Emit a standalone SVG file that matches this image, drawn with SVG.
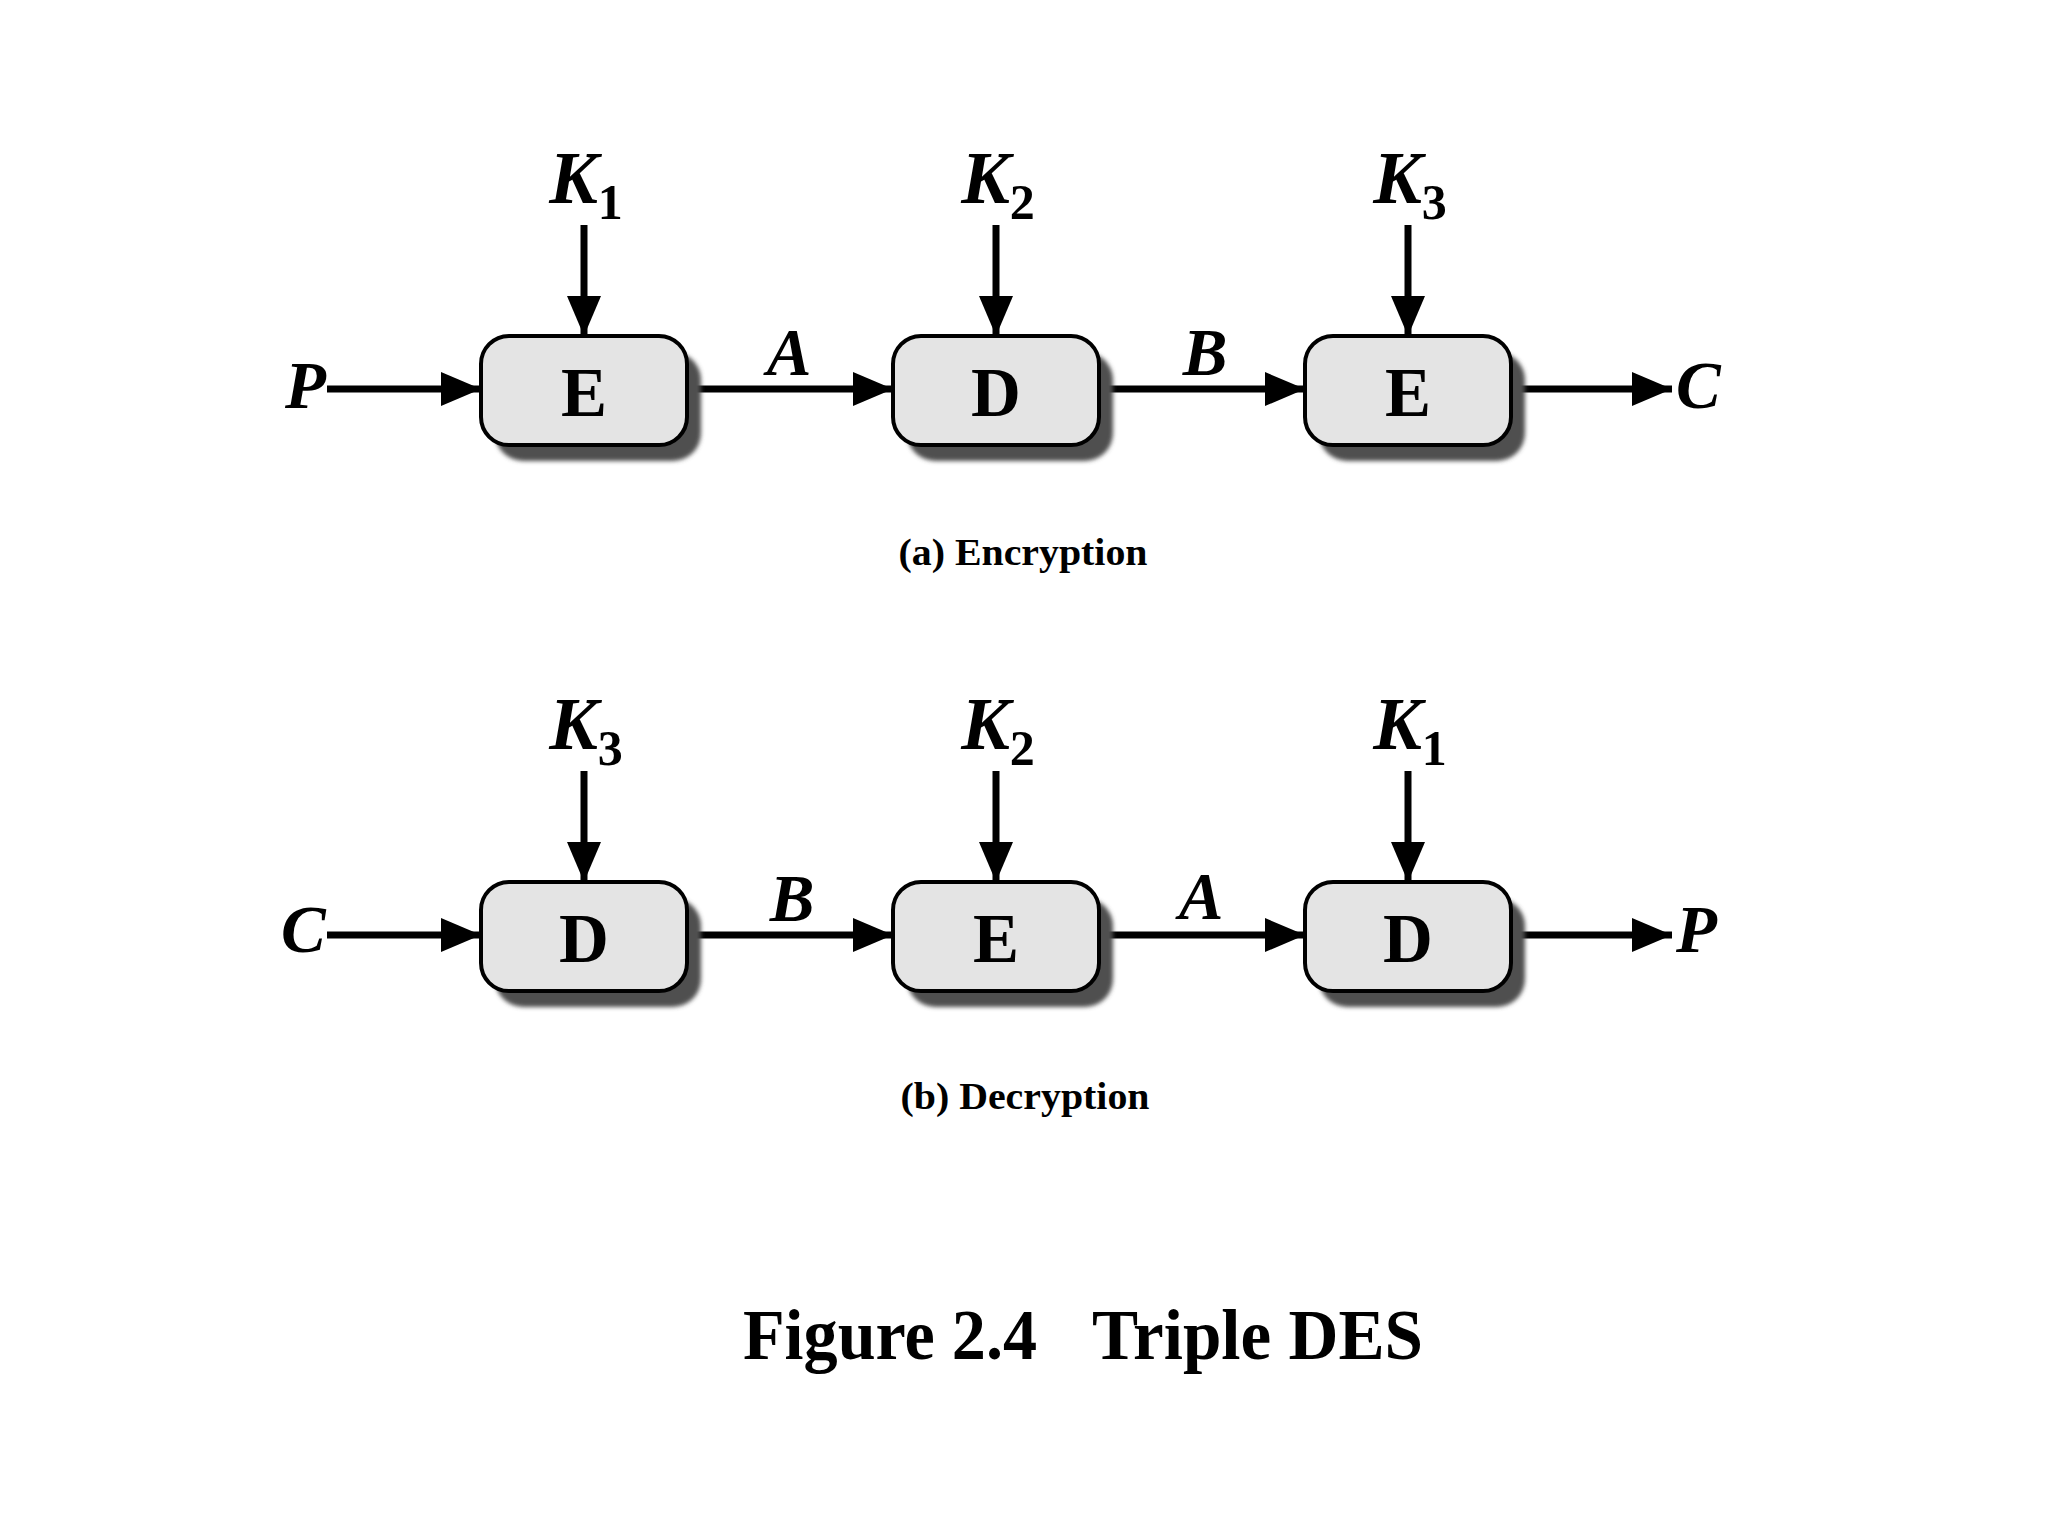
<svg xmlns="http://www.w3.org/2000/svg" width="2048" height="1536" viewBox="0 0 2048 1536">
<style>
.box{fill:#e4e4e4;stroke:#000;stroke-width:4}
.shadow{fill:#505050}
.op{font-family:"Liberation Serif",serif;font-weight:bold;font-size:69px;text-anchor:middle;fill:#000}
.var{font-family:"Liberation Serif",serif;font-style:italic;font-weight:bold;font-size:67px;fill:#000}
.key{font-family:"Liberation Serif",serif;font-style:italic;font-weight:bold;font-size:73px;text-anchor:middle;fill:#000}
.sub{font-style:normal;font-weight:bold;font-size:50px}
.cap{font-family:"Liberation Serif",serif;font-weight:bold;font-size:37px;text-anchor:middle;fill:#000}
.title{font-family:"Liberation Serif",serif;font-weight:bold;font-size:71px;fill:#000}
.conn{stroke:#000;stroke-width:7;fill:none}
</style>
<defs>
<marker id="ah" markerUnits="userSpaceOnUse" markerWidth="42" markerHeight="36" refX="40" refY="17" orient="auto">
<path d="M0,0 L40,17 L0,34 z" fill="#000"/>
</marker>
<filter id="blur" x="-10%" y="-10%" width="130%" height="130%"><feGaussianBlur stdDeviation="2"/></filter>
</defs>
<rect width="2048" height="1536" fill="#fff"/>

<g id="connectors">
<line class="conn" x1="584" y1="225" x2="584" y2="336" marker-end="url(#ah)"/>
<line class="conn" x1="996" y1="225" x2="996" y2="336" marker-end="url(#ah)"/>
<line class="conn" x1="1408" y1="225" x2="1408" y2="336" marker-end="url(#ah)"/>
<line class="conn" x1="327" y1="389" x2="481" y2="389" marker-end="url(#ah)"/>
<line class="conn" x1="687" y1="389" x2="893" y2="389" marker-end="url(#ah)"/>
<line class="conn" x1="1099" y1="389" x2="1305" y2="389" marker-end="url(#ah)"/>
<line class="conn" x1="1511" y1="389" x2="1672" y2="389" marker-end="url(#ah)"/>

<line class="conn" x1="584" y1="771" x2="584" y2="882" marker-end="url(#ah)"/>
<line class="conn" x1="996" y1="771" x2="996" y2="882" marker-end="url(#ah)"/>
<line class="conn" x1="1408" y1="771" x2="1408" y2="882" marker-end="url(#ah)"/>
<line class="conn" x1="327" y1="935" x2="481" y2="935" marker-end="url(#ah)"/>
<line class="conn" x1="687" y1="935" x2="893" y2="935" marker-end="url(#ah)"/>
<line class="conn" x1="1099" y1="935" x2="1305" y2="935" marker-end="url(#ah)"/>
<line class="conn" x1="1511" y1="935" x2="1672" y2="935" marker-end="url(#ah)"/>
</g>

<g id="enc-e1">
<rect class="shadow" filter="url(#blur)" x="495" y="352" width="206" height="109" rx="28"/>
<rect class="box" x="481" y="336" width="206" height="109" rx="28"/>
<text class="op" x="584" y="416">E</text>
</g>
<g id="enc-d">
<rect class="shadow" filter="url(#blur)" x="907" y="352" width="206" height="109" rx="28"/>
<rect class="box" x="893" y="336" width="206" height="109" rx="28"/>
<text class="op" x="996" y="416">D</text>
</g>
<g id="enc-e2">
<rect class="shadow" filter="url(#blur)" x="1319" y="352" width="206" height="109" rx="28"/>
<rect class="box" x="1305" y="336" width="206" height="109" rx="28"/>
<text class="op" x="1408" y="416">E</text>
</g>

<g id="dec-d1">
<rect class="shadow" filter="url(#blur)" x="495" y="898" width="206" height="109" rx="28"/>
<rect class="box" x="481" y="882" width="206" height="109" rx="28"/>
<text class="op" x="584" y="962">D</text>
</g>
<g id="dec-e">
<rect class="shadow" filter="url(#blur)" x="907" y="898" width="206" height="109" rx="28"/>
<rect class="box" x="893" y="882" width="206" height="109" rx="28"/>
<text class="op" x="996" y="962">E</text>
</g>
<g id="dec-d2">
<rect class="shadow" filter="url(#blur)" x="1319" y="898" width="206" height="109" rx="28"/>
<rect class="box" x="1305" y="882" width="206" height="109" rx="28"/>
<text class="op" x="1408" y="962">D</text>
</g>

<g id="labels-enc">
<text class="key" x="586" y="203">K<tspan class="sub" dy="16">1</tspan></text>
<text class="key" x="998" y="203">K<tspan class="sub" dy="16">2</tspan></text>
<text class="key" x="1410" y="203">K<tspan class="sub" dy="16">3</tspan></text>
<text class="var" x="285" y="408">P</text>
<text class="var" x="789" y="375" text-anchor="middle" font-weight="normal">A</text>
<text class="var" x="1205" y="375" text-anchor="middle">B</text>
<text class="var" x="1676" y="408" font-weight="normal">C</text>
<text class="cap" x="1023" y="565" textLength="249" lengthAdjust="spacingAndGlyphs">(a) Encryption</text>
</g>

<g id="labels-dec">
<text class="key" x="586" y="749">K<tspan class="sub" dy="16">3</tspan></text>
<text class="key" x="998" y="749">K<tspan class="sub" dy="16">2</tspan></text>
<text class="key" x="1410" y="749">K<tspan class="sub" dy="16">1</tspan></text>
<text class="var" x="281" y="952">C</text>
<text class="var" x="792" y="921" text-anchor="middle">B</text>
<text class="var" x="1201" y="919" text-anchor="middle" font-weight="normal">A</text>
<text class="var" x="1676" y="952">P</text>
<text class="cap" x="1025" y="1109" textLength="249" lengthAdjust="spacingAndGlyphs">(b) Decryption</text>
</g>

<text class="title" y="1359"><tspan x="743" textLength="294" lengthAdjust="spacingAndGlyphs">Figure 2.4</tspan><tspan x="1092" textLength="331" lengthAdjust="spacingAndGlyphs">Triple DES</tspan></text>
</svg>
